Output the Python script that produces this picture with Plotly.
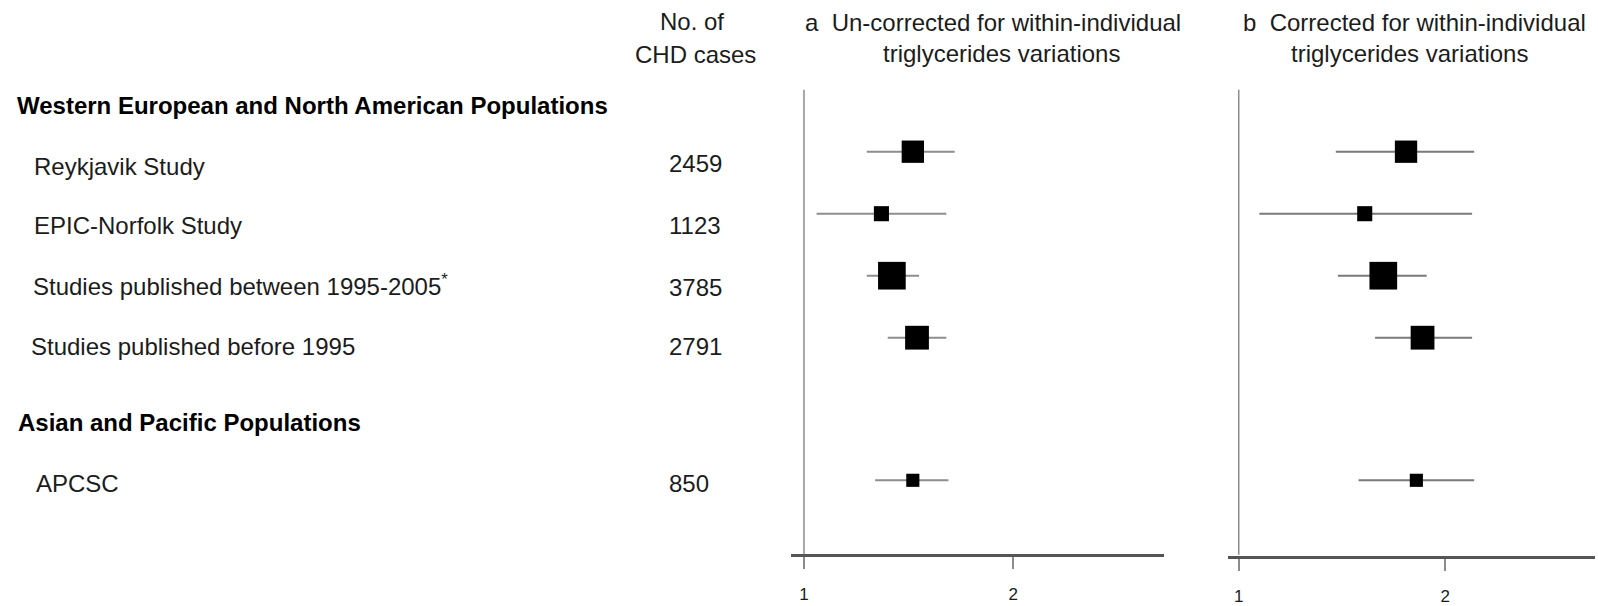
import numpy as np
import plotly.graph_objects as go

# ---------------- data ----------------
studies = ["Reykjavik Study", "EPIC-Norfolk Study",
           "Studies published between 1995-2005<sup>*</sup>",
           "Studies published before 1995", "APCSC"]
groups = ["Western European and North American Populations",
          "Asian and Pacific Populations"]
cases = [2459, 1123, 3785, 2791, 850]

est_a = [1.52, 1.37, 1.42, 1.54, 1.52]
lo_a = [1.30, 1.06, 1.30, 1.40, 1.34]
hi_a = [1.72, 1.68, 1.55, 1.68, 1.69]

est_b = [1.81, 1.61, 1.70, 1.89, 1.86]
lo_b = [1.47, 1.10, 1.48, 1.66, 1.58]
hi_b = [2.14, 2.13, 1.91, 2.13, 2.14]

tick_vals = [1, 2]
tick_text = ["1", "2"]

title_a = ["a\u00a0\u00a0Un-corrected for within-individual", "triglycerides variations"]
title_b = ["b\u00a0\u00a0Corrected for within-individual", "triglycerides variations"]
cases_header = ["No. of", "CHD cases"]

# ---------------- layout helpers ----------------
W, H = 1598, 606
row_pos = [1, 2, 3, 4, 6.3]          # vertical slots of the studies
row_px0, row_step = 151.7, 62.0      # pixel of slot 1, pixels per slot
y_top = 1 - row_px0 / row_step
y_bot = 1 + (H - row_px0) / row_step
axis_slot = 7.5

FONT = "Liberation Sans, Arial, Helvetica, sans-serif"
TXT = "#1c1c1c"

def px(x):
    return x / W

def py(y):
    return 1 - y / H

fig = go.Figure()

def add_panel(est, lo, hi, xa, ci_color):
    xs, ys = [], []
    for l, h, r in zip(lo, hi, row_pos):
        xs += [l, h, None]
        ys += [r, r, None]
    fig.add_trace(go.Scatter(x=xs, y=ys, mode="lines", xaxis=xa, yaxis="y",
                             line=dict(color=ci_color, width=2),
                             hoverinfo="skip", showlegend=False))
    fig.add_trace(go.Scatter(x=est, y=row_pos, mode="markers", xaxis=xa, yaxis="y",
                             marker=dict(symbol="square", color="#000000", opacity=1,
                                         size=[0.45 * np.sqrt(c) for c in cases],
                                         line=dict(width=0)),
                             showlegend=False))
    # reference line at 1
    fig.add_shape(type="line", xref=xa, yref="y", x0=1, x1=1, y0=0, y1=axis_slot,
                  line=dict(color="#8c8c8c", width=1.5), layer="below")

add_panel(est_a, lo_a, hi_a, "x", "#8e8e8e")
add_panel(est_b, lo_b, hi_b, "x2", "#7a7a7a")

axis_common = dict(tickvals=tick_vals, ticktext=tick_text, ticks="outside",
                   ticklen=12, tickwidth=1.5, tickcolor="#8c8c8c",
                   showline=True, linecolor="#555555", linewidth=3,
                   showgrid=False, zeroline=False, anchor="free",
                   automargin=False,
                   ticklabelstandoff=11,
                   tickfont=dict(family=FONT, size=17, color=TXT),
                   fixedrange=True)

fig.update_layout(
    width=W, height=H,
    margin=dict(l=0, r=0, t=0, b=0, pad=0, autoexpand=False),
    paper_bgcolor="white", plot_bgcolor="white",
    xaxis=dict(domain=[px(791), px(1164)], range=[0.938, 2.72],
               position=py(555), **axis_common),
    xaxis2=dict(domain=[px(1228), px(1595)], range=[0.948, 2.725],
                position=py(556.5), **axis_common),
    yaxis=dict(range=[y_bot, y_top], visible=False, domain=[0, 1],
               automargin=False, fixedrange=True),
    showlegend=False,
)

ann = []
def text(t, x, y, size=24, bold=False, xanchor="left"):
    ann.append(dict(text=f"<b>{t}</b>" if bold else t, x=px(x), y=py(y),
                    xref="paper", yref="paper", xanchor=xanchor, yanchor="middle",
                    showarrow=False,
                    font=dict(family=FONT, size=size, color="black" if bold else TXT)))

# group headers
text(groups[0], 14.5, 105.5, bold=True)
text(groups[1], 15.5, 422, bold=True)

# study labels and case numbers
label_x = [31.7, 31.7, 30.7, 29.0, 33.6]
label_y = [166, 225, 285, 346, 483]
num_y = [164, 225, 287, 346, 483]
for s, lx, ly in zip(studies, label_x, label_y):
    text(s, lx, ly)
for c, ny in zip(cases, num_y):
    text(str(c), 667, ny)

# column headers
text(cases_header[0], 692, 21, xanchor="center")
text(cases_header[1], 695, 54.5, xanchor="center")
text(title_a[0], 802.7, 22.5)
text(title_a[1], 1001, 54, xanchor="center")
text(title_b[0], 1240.7, 22.5)
text(title_b[1], 1409, 54, xanchor="center")

fig.update_layout(annotations=ann)
fig.write_html("out.html")
